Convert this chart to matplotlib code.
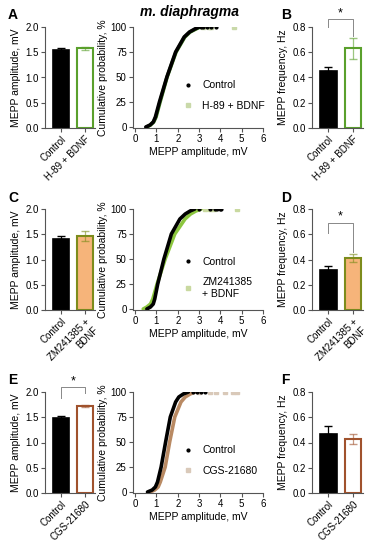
import numpy as np
import matplotlib
matplotlib.use("Agg")
import matplotlib.pyplot as plt

plt.rcParams['font.family'] = ['Liberation Sans', 'DejaVu Sans']
plt.rcParams['font.size'] = 7

# --- données ---
groups_A = ["Control", "H-89 + BDNF"]
amp_A = [1.54, 1.58]
amp_A_err = [0.04, 0.03]
freq_B = [0.45, 0.63]
freq_B_err = [0.035, 0.08]

groups_C = ["Control", "ZM241385 +\nBDNF"]
amp_C = [1.41, 1.47]
amp_C_err = [0.05, 0.10]
freq_D = [0.32, 0.41]
freq_D_err = [0.025, 0.03]

groups_E = ["Control", "CGS-21680"]
amp_E = [1.49, 1.72]
amp_E_err = [0.04, 0.02]
freq_F = [0.47, 0.43]
freq_F_err = [0.06, 0.04]

# courbes cumulées (amplitude, mV) aux percentiles
cum_pct = [0, 2, 5, 10, 25, 50, 75, 90, 95, 98, 100]
cumA_ctrl = [0.50, 0.70, 0.85, 0.95, 1.14, 1.49, 1.90, 2.30, 2.55, 2.80, 3.00]
cumA_trt = [0.55, 0.72, 0.87, 0.98, 1.17, 1.50, 1.92, 2.33, 2.58, 2.85, 3.05]
tailA_ctrl = [3.1, 3.2, 3.35, 3.55, 3.8]
tailA_trt = [3.2, 3.45, 3.55, 4.65]

cumC_ctrl = [0.55, 0.72, 0.85, 0.92, 1.06, 1.35, 1.70, 2.10, 2.35, 2.58, 2.80]
cumC_trt = [0.38, 0.55, 0.72, 0.83, 1.03, 1.41, 1.86, 2.34, 2.60, 2.85, 3.10]
tailC_ctrl = [3.0, 3.5, 3.75, 3.86, 3.97, 4.02]
tailC_trt = [3.3, 3.5, 3.7, 4.78]

cumE_ctrl = [0.58, 0.80, 0.95, 1.05, 1.22, 1.43, 1.65, 1.90, 2.05, 2.26, 2.50]
cumE_trt = [0.70, 0.92, 1.08, 1.18, 1.41, 1.62, 1.86, 2.15, 2.35, 2.58, 2.80]
tailE_ctrl = [2.7, 2.9, 3.1, 3.3]
tailE_trt = [3.0, 3.5, 3.8, 4.2, 4.6, 4.78]

GREEN = '#5aa02c'
GREEN_CURVE = '#3f7f1f'
GREEN_LIGHT = '#8cc63f'
OLIVE = '#7d8c1c'
ORANGE_FILL = '#f6b47a'
BROWN = '#a0522d'
BROWN_CURVE = '#b98a63'

fig = plt.figure(figsize=(3.73, 5.5), dpi=100)


def style_axes(ax):
    for s in ['top', 'right']:
        ax.spines[s].set_visible(False)
    for s in ['left', 'bottom']:
        ax.spines[s].set_color('#555555')
        ax.spines[s].set_linewidth(0.8)
    ax.tick_params(direction='out', length=3, width=0.8, color='#555555', labelsize=7, pad=1.5)


def bar_panel(rect, vals, errs, labels, face2, edge2, ylim, yticks, ylabel, sig=None):
    ax = fig.add_axes(rect)
    x = np.arange(2)
    ax.bar(x[0], vals[0], 0.67, color='black', edgecolor='black', linewidth=1.2)
    ax.bar(x[1], vals[1], 0.67, color=face2, edgecolor=edge2, linewidth=1.5)
    ax.errorbar(x[0], vals[0], yerr=[[0], [errs[0]]], fmt='none', ecolor='black', capsize=3, elinewidth=0.9)
    ax.errorbar(x[1], vals[1], yerr=errs[1], fmt='none', ecolor=edge2, capsize=3, elinewidth=0.9, alpha=0.6)
    ax.set_xlim(-0.67, 1.42)
    ax.set_ylim(*ylim)
    ax.set_yticks(yticks)
    ax.set_yticklabels([f"{t:.1f}" for t in yticks])
    ax.set_xticks(x)
    ax.set_xticklabels(labels, rotation=45, ha='right', rotation_mode='anchor', fontsize=7.5)
    ax.set_ylabel(ylabel, fontsize=7.5, labelpad=3)
    style_axes(ax)
    if sig is not None:
        ytop, yl, yr = sig
        ax.plot([0, 0, 1, 1], [yl, ytop, ytop, yr], color='#888888', lw=0.7, clip_on=False)
        ax.text(0.5, ytop, '*', ha='center', va='bottom', fontsize=9, clip_on=False)
    return ax


def cum_panel(rect, ctrl, trt, tail_c, tail_t, col_line, col_mark, label):
    ax = fig.add_axes(rect)
    ax.plot(trt, cum_pct, color=col_line, lw=2.6, solid_capstyle='round', zorder=2)
    ax.plot(ctrl, cum_pct, color='black', lw=2.6, solid_capstyle='round', zorder=3)
    ax.plot(tail_c, [100] * len(tail_c), 'o', color='black', ms=2, zorder=3)
    ax.plot(tail_t, [100] * len(tail_t), 's', color=col_mark, ms=2.2, zorder=2)
    ax.plot([], [], 'o', color='black', ms=2, label='Control')
    ax.plot([], [], 's', color=col_mark, ms=2.5, label=label)
    ax.set_xlim(-0.1, 6)
    ax.set_ylim(-1, 100)
    ax.set_xticks(range(7))
    ax.set_yticks([0, 25, 50, 75, 100])
    ax.set_xlabel('MEPP amplitude, mV', fontsize=7.5, labelpad=2)
    ax.set_ylabel('Cumulative probability, %', fontsize=7.5, labelpad=2)
    style_axes(ax)
    ax.legend(loc='center left', bbox_to_anchor=(0.31, 0.32), frameon=False, fontsize=7.5,
              handlelength=1.0, handletextpad=0.9, labelspacing=1.0)
    return ax


row_h = 101 / 550
bottoms = [1 - 128 / 550, 1 - 310 / 550, 1 - 493 / 550]
bar_l, bar_w = 45 / 373, 50 / 373
cum_l, cum_w = 133 / 373, 130 / 373
fr_l, fr_w = 312 / 373, 51 / 373

amp_ticks = [0.0, 0.5, 1.0, 1.5, 2.0]
freq_ticks = [0.0, 0.2, 0.4, 0.6, 0.8]

# ligne 1
bar_panel([bar_l, bottoms[0], bar_w, row_h], amp_A, amp_A_err, groups_A, 'white', GREEN,
          (0, 2.0), amp_ticks, 'MEPP amplitude, mV')
cum_panel([cum_l, bottoms[0], cum_w, row_h], cumA_ctrl, cumA_trt, tailA_ctrl, tailA_trt,
          GREEN_CURVE, '#c9d9a9', 'H-89 + BDNF')
bar_panel([fr_l, bottoms[0], fr_w, row_h], freq_B, freq_B_err, groups_A, 'white', GREEN,
          (0, 0.8), freq_ticks, 'MEPP frequency, Hz', sig=(0.86, 0.8, 0.73))

# ligne 2
bar_panel([bar_l, bottoms[1], bar_w, row_h], amp_C, amp_C_err, groups_C, ORANGE_FILL, OLIVE,
          (0, 2.0), amp_ticks, 'MEPP amplitude, mV')
cum_panel([cum_l, bottoms[1], cum_w, row_h], cumC_ctrl, cumC_trt, tailC_ctrl, tailC_trt,
          GREEN_LIGHT, '#c9d9a0', 'ZM241385\n+ BDNF')
bar_panel([fr_l, bottoms[1], fr_w, row_h], freq_D, freq_D_err, groups_C, ORANGE_FILL, OLIVE,
          (0, 0.8), freq_ticks, 'MEPP frequency, Hz', sig=(0.69, 0.61, 0.46))

# ligne 3
bar_panel([bar_l, bottoms[2], bar_w, row_h], amp_E, amp_E_err, groups_E, 'white', BROWN,
          (0, 2.0), amp_ticks, 'MEPP amplitude, mV', sig=(2.1, 1.88, 1.98))
cum_panel([cum_l, bottoms[2], cum_w, row_h], cumE_ctrl, cumE_trt, tailE_ctrl, tailE_trt,
          BROWN_CURVE, '#d9c9b9', 'CGS-21680')
bar_panel([fr_l, bottoms[2], fr_w, row_h], freq_F, freq_F_err, groups_E, 'white', BROWN,
          (0, 0.8), freq_ticks, 'MEPP frequency, Hz')

# lettres des panneaux
for lab, x, y in [('A', 8, 15), ('B', 281, 15), ('C', 8, 198), ('D', 281, 198),
                  ('E', 8, 380), ('F', 281, 380)]:
    fig.text(x / 373, 1 - y / 550, lab, fontsize=10, fontweight='bold', ha='left', va='center')

fig.text(190 / 373, 1 - 12 / 550, 'm. diaphragma', fontsize=10, fontweight='bold',
         fontstyle='italic', ha='center', va='center')

fig.savefig('out.png', dpi=100)
